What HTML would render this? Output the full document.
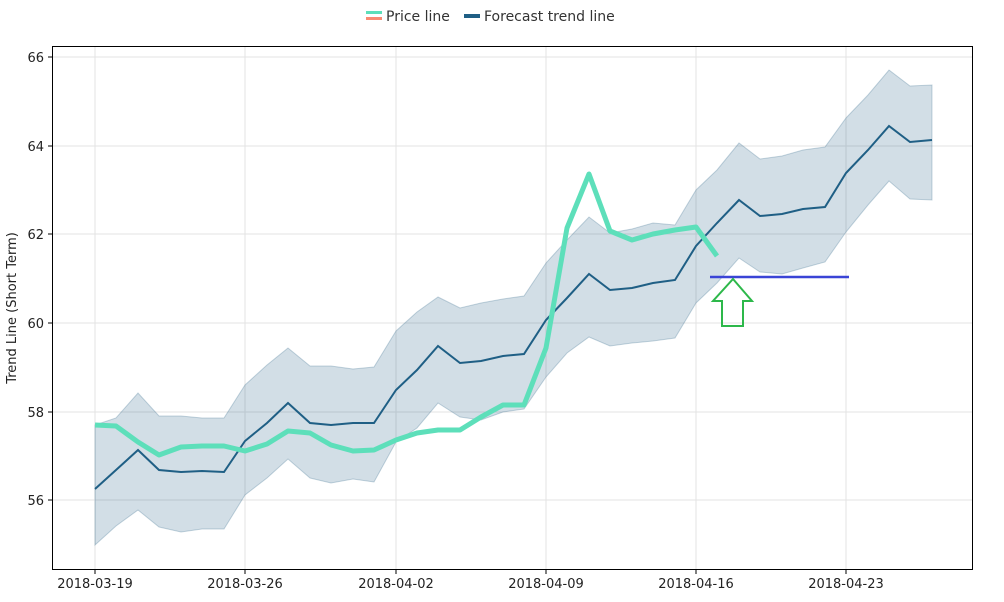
<!DOCTYPE html>
<html><head><meta charset="utf-8"><style>
body{margin:0;background:#fff;}
svg text{font-family:"DejaVu Sans","Liberation Sans",sans-serif;}
</style></head><body>
<svg width="1004" height="597" viewBox="0 0 1004 597" xmlns="http://www.w3.org/2000/svg">
<g stroke="#e3e3e3" stroke-width="1">
<line x1="95" y1="46" x2="95" y2="570"/><line x1="245" y1="46" x2="245" y2="570"/><line x1="396" y1="46" x2="396" y2="570"/><line x1="546" y1="46" x2="546" y2="570"/><line x1="696" y1="46" x2="696" y2="570"/><line x1="846" y1="46" x2="846" y2="570"/>
<line x1="52" y1="500" x2="973" y2="500"/><line x1="52" y1="412" x2="973" y2="412"/><line x1="52" y1="323" x2="973" y2="323"/><line x1="52" y1="234" x2="973" y2="234"/><line x1="52" y1="146" x2="973" y2="146"/><line x1="52" y1="57" x2="973" y2="57"/>
</g>
<polygon fill="#1f5a80" fill-opacity="0.2" stroke="#1f5a80" stroke-opacity="0.25" points="95,425 116,418 138,393 159,416 181,416 202,418 224,418 245,385 267,365 288,348 310,366 331,366 353,369 374,367 396,331 417,312 438,297 460,308 481,303 503,299 524,296 546,263 567,240 589,217 610,233 632,229 653,223 675,225 696,190 717,170 739,143 760,159 782,156 803,150 825,147 846,118 868,95 889,70 910,86 932,85 932,200 910,199 889,181 868,205 846,232 825,262 803,268 782,274 760,272 739,258 717,283 696,303 675,338 653,341 632,343 610,346 589,337 567,353 546,377 524,409 503,412 481,420 460,417 438,403 417,428 396,442 374,482 353,479 331,483 310,478 288,459 267,478 245,495 224,529 202,529 181,532 159,527 138,510 116,526 95,545"/>
<polyline fill="none" stroke="#1f5f85" stroke-width="2" points="95,489 116,470 138,450 159,470 181,472 202,471 224,472 245,441 267,423 288,403 310,423 331,425 353,423 374,423 396,390 417,370 438,346 460,363 481,361 503,356 524,354 546,320 567,298 589,274 610,290 632,288 653,283 675,280 696,246 717,223 739,200 760,216 782,214 803,209 825,207 846,173 868,150 889,126 910,142 932,140"/>
<polyline fill="none" stroke="#5ddfba" stroke-width="5" stroke-linejoin="round" points="95,425 116,426 138,442 159,455 181,447 202,446 224,446 245,451 267,444 288,431 310,433 331,445 353,451 374,450 396,440 417,433 438,430 460,430 481,417 503,405 524,405 546,348 567,228 589,174 610,231 632,240 653,234 675,230 696,227 717,256"/>
<line x1="710" y1="277" x2="849" y2="277" stroke="#3a44d6" stroke-width="2.5"/>
<polygon fill="none" stroke="#2db84a" stroke-width="2" points="733,279 752,301 743,301 743,326 722,326 722,301 713,301"/>
<rect x="52.5" y="46.5" width="920" height="523" fill="none" stroke="#000" stroke-width="1"/>
<g font-size="13" fill="#222" text-anchor="end">
<text x="44" y="505">56</text><text x="44" y="417">58</text><text x="44" y="328">60</text><text x="44" y="239">62</text><text x="44" y="151">64</text><text x="44" y="62">66</text>
</g>
<g stroke="#000"><line x1="48" y1="500" x2="52" y2="500"/><line x1="48" y1="412" x2="52" y2="412"/><line x1="48" y1="323" x2="52" y2="323"/><line x1="48" y1="234" x2="52" y2="234"/><line x1="48" y1="146" x2="52" y2="146"/><line x1="48" y1="57" x2="52" y2="57"/>
<line x1="95" y1="570" x2="95" y2="574"/><line x1="245" y1="570" x2="245" y2="574"/><line x1="396" y1="570" x2="396" y2="574"/><line x1="546" y1="570" x2="546" y2="574"/><line x1="696" y1="570" x2="696" y2="574"/><line x1="846" y1="570" x2="846" y2="574"/></g>
<g font-size="13" fill="#222" text-anchor="middle">
<text x="95" y="588">2018-03-19</text><text x="245" y="588">2018-03-26</text><text x="396" y="588">2018-04-02</text><text x="546" y="588">2018-04-09</text><text x="696" y="588">2018-04-16</text><text x="846" y="588">2018-04-23</text>
</g>
<text x="16" y="308" font-size="13" fill="#222" text-anchor="middle" transform="rotate(-90 16 308)">Trend Line (Short Term)</text>
<rect x="366" y="11" width="16" height="3" fill="#5ddfba"/><rect x="366" y="17" width="16" height="3" fill="#fa8a72"/>
<text x="386" y="21" font-size="14" fill="#333">Price line</text>
<rect x="464" y="14" width="16" height="4" fill="#1f5f85"/>
<text x="484" y="21" font-size="14" fill="#333">Forecast trend line</text>
</svg>
</body></html>
